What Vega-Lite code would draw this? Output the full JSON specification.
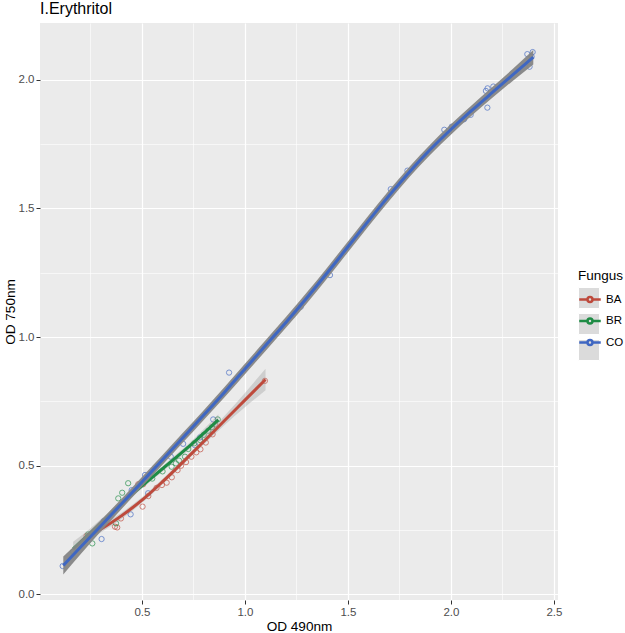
{
  "$schema": "https://vega.github.io/schema/vega-lite/v6.json",
  "autosize": {"type": "none"},
  "width": 518,
  "height": 577,
  "padding": {"left": 40, "top": 23, "right": 67, "bottom": 33},
  "background": "white",
  "title": {"text": "I.Erythritol", "anchor": "start", "frame": "group", "font": "Liberation Sans", "fontSize": 16, "fontWeight": "normal", "color": "black", "offset": 6},
  "config": {
    "view": {"fill": "#EBEBEB", "stroke": null},
    "axis": {"domain": false, "gridColor": "white", "tickColor": "#333333", "tickSize": 4, "tickWidth": 1, "labelColor": "#4D4D4D", "labelFont": "Liberation Sans", "labelFontSize": 11.5, "labelPadding": 2, "titleFont": "Liberation Sans", "titleFontSize": 13.6, "titleFontWeight": "normal", "titleColor": "black"}
  },
  "datasets": {
    "pts": [
      {"Fungus": "CO", "od490": 0.115, "od750": 0.110},
      {"Fungus": "CO", "od490": 0.304, "od750": 0.215},
      {"Fungus": "CO", "od490": 0.315, "od750": 0.285},
      {"Fungus": "CO", "od490": 0.445, "od750": 0.311},
      {"Fungus": "CO", "od490": 0.45, "od750": 0.405},
      {"Fungus": "CO", "od490": 0.515, "od750": 0.464},
      {"Fungus": "CO", "od490": 0.53, "od750": 0.393},
      {"Fungus": "CO", "od490": 0.64, "od750": 0.535},
      {"Fungus": "CO", "od490": 0.70, "od750": 0.585},
      {"Fungus": "CO", "od490": 0.757, "od750": 0.58},
      {"Fungus": "CO", "od490": 0.782, "od750": 0.61},
      {"Fungus": "CO", "od490": 0.846, "od750": 0.68},
      {"Fungus": "CO", "od490": 0.923, "od750": 0.862},
      {"Fungus": "CO", "od490": 1.271, "od750": 1.118},
      {"Fungus": "CO", "od490": 1.413, "od750": 1.241},
      {"Fungus": "CO", "od490": 1.708, "od750": 1.575},
      {"Fungus": "CO", "od490": 1.789, "od750": 1.647},
      {"Fungus": "CO", "od490": 1.968, "od750": 1.806},
      {"Fungus": "CO", "od490": 2.004, "od750": 1.818},
      {"Fungus": "CO", "od490": 2.064, "od750": 1.847},
      {"Fungus": "CO", "od490": 2.096, "od750": 1.864},
      {"Fungus": "CO", "od490": 2.177, "od750": 1.892},
      {"Fungus": "CO", "od490": 2.17, "od750": 1.957},
      {"Fungus": "CO", "od490": 2.178, "od750": 1.967},
      {"Fungus": "CO", "od490": 2.206, "od750": 1.974},
      {"Fungus": "CO", "od490": 2.327, "od750": 2.032},
      {"Fungus": "CO", "od490": 2.371, "od750": 2.1},
      {"Fungus": "CO", "od490": 2.397, "od750": 2.108},
      {"Fungus": "CO", "od490": 2.382, "od750": 2.051},
      {"Fungus": "CO", "od490": 2.392, "od750": 2.09},
      {"Fungus": "BA", "od490": 0.231, "od750": 0.227},
      {"Fungus": "BA", "od490": 0.369, "od750": 0.263},
      {"Fungus": "BA", "od490": 0.38, "od750": 0.26},
      {"Fungus": "BA", "od490": 0.398, "od750": 0.295},
      {"Fungus": "BA", "od490": 0.482, "od750": 0.428},
      {"Fungus": "BA", "od490": 0.503, "od750": 0.341},
      {"Fungus": "BA", "od490": 0.506, "od750": 0.428},
      {"Fungus": "BA", "od490": 0.531, "od750": 0.382},
      {"Fungus": "BA", "od490": 0.571, "od750": 0.414},
      {"Fungus": "BA", "od490": 0.597, "od750": 0.425},
      {"Fungus": "BA", "od490": 0.62, "od750": 0.434},
      {"Fungus": "BA", "od490": 0.645, "od750": 0.455},
      {"Fungus": "BA", "od490": 0.673, "od750": 0.483},
      {"Fungus": "BA", "od490": 0.69, "od750": 0.50},
      {"Fungus": "BA", "od490": 0.714, "od750": 0.514},
      {"Fungus": "BA", "od490": 0.74, "od750": 0.535},
      {"Fungus": "BA", "od490": 0.764, "od750": 0.552},
      {"Fungus": "BA", "od490": 0.784, "od750": 0.564},
      {"Fungus": "BA", "od490": 0.81, "od750": 0.59},
      {"Fungus": "BA", "od490": 0.843, "od750": 0.622},
      {"Fungus": "BA", "od490": 0.855, "od750": 0.66},
      {"Fungus": "BA", "od490": 1.097, "od750": 0.83},
      {"Fungus": "BR", "od490": 0.166, "od750": 0.166},
      {"Fungus": "BR", "od490": 0.239, "od750": 0.233},
      {"Fungus": "BR", "od490": 0.259, "od750": 0.198},
      {"Fungus": "BR", "od490": 0.288, "od750": 0.257},
      {"Fungus": "BR", "od490": 0.374, "od750": 0.276},
      {"Fungus": "BR", "od490": 0.385, "od750": 0.373},
      {"Fungus": "BR", "od490": 0.404, "od750": 0.395},
      {"Fungus": "BR", "od490": 0.433, "od750": 0.432},
      {"Fungus": "BR", "od490": 0.55, "od750": 0.45},
      {"Fungus": "BR", "od490": 0.60, "od750": 0.478},
      {"Fungus": "BR", "od490": 0.644, "od750": 0.496},
      {"Fungus": "BR", "od490": 0.665, "od750": 0.509},
      {"Fungus": "BR", "od490": 0.68, "od750": 0.52},
      {"Fungus": "BR", "od490": 0.709, "od750": 0.535},
      {"Fungus": "BR", "od490": 0.725, "od750": 0.565},
      {"Fungus": "BR", "od490": 0.754, "od750": 0.587},
      {"Fungus": "BR", "od490": 0.782, "od750": 0.6},
      {"Fungus": "BR", "od490": 0.80, "od750": 0.62},
      {"Fungus": "BR", "od490": 0.822, "od750": 0.636},
      {"Fungus": "BR", "od490": 0.84, "od750": 0.65},
      {"Fungus": "BR", "od490": 0.868, "od750": 0.68}
    ],
    "smooth": [
      {"Fungus": "BA", "od490": 0.231, "fit": 0.222, "lo": 0.207, "hi": 0.237},
      {"Fungus": "BA", "od490": 0.3, "fit": 0.253, "lo": 0.240, "hi": 0.266},
      {"Fungus": "BA", "od490": 0.4, "fit": 0.305, "lo": 0.293, "hi": 0.317},
      {"Fungus": "BA", "od490": 0.5, "fit": 0.366, "lo": 0.355, "hi": 0.377},
      {"Fungus": "BA", "od490": 0.6, "fit": 0.438, "lo": 0.428, "hi": 0.448},
      {"Fungus": "BA", "od490": 0.7, "fit": 0.515, "lo": 0.505, "hi": 0.525},
      {"Fungus": "BA", "od490": 0.8, "fit": 0.594, "lo": 0.582, "hi": 0.606},
      {"Fungus": "BA", "od490": 0.9, "fit": 0.675, "lo": 0.657, "hi": 0.693},
      {"Fungus": "BA", "od490": 1.0, "fit": 0.755, "lo": 0.727, "hi": 0.783},
      {"Fungus": "BA", "od490": 1.1, "fit": 0.835, "lo": 0.793, "hi": 0.877},
      {"Fungus": "BR", "od490": 0.166, "fit": 0.177, "lo": 0.150, "hi": 0.204},
      {"Fungus": "BR", "od490": 0.25, "fit": 0.239, "lo": 0.221, "hi": 0.257},
      {"Fungus": "BR", "od490": 0.35, "fit": 0.314, "lo": 0.300, "hi": 0.328},
      {"Fungus": "BR", "od490": 0.45, "fit": 0.388, "lo": 0.376, "hi": 0.400},
      {"Fungus": "BR", "od490": 0.55, "fit": 0.455, "lo": 0.444, "hi": 0.466},
      {"Fungus": "BR", "od490": 0.65, "fit": 0.522, "lo": 0.511, "hi": 0.533},
      {"Fungus": "BR", "od490": 0.75, "fit": 0.590, "lo": 0.577, "hi": 0.603},
      {"Fungus": "BR", "od490": 0.871, "fit": 0.678, "lo": 0.656, "hi": 0.700},
      {"Fungus": "CO", "od490": 0.118, "fit": 0.112, "lo": 0.077, "hi": 0.147},
      {"Fungus": "CO", "od490": 0.2, "fit": 0.182, "lo": 0.154, "hi": 0.210},
      {"Fungus": "CO", "od490": 0.3, "fit": 0.266, "lo": 0.244, "hi": 0.288},
      {"Fungus": "CO", "od490": 0.4, "fit": 0.351, "lo": 0.331, "hi": 0.371},
      {"Fungus": "CO", "od490": 0.5, "fit": 0.437, "lo": 0.418, "hi": 0.456},
      {"Fungus": "CO", "od490": 0.6, "fit": 0.523, "lo": 0.504, "hi": 0.542},
      {"Fungus": "CO", "od490": 0.7, "fit": 0.610, "lo": 0.591, "hi": 0.629},
      {"Fungus": "CO", "od490": 0.8, "fit": 0.697, "lo": 0.678, "hi": 0.716},
      {"Fungus": "CO", "od490": 0.9, "fit": 0.785, "lo": 0.765, "hi": 0.805},
      {"Fungus": "CO", "od490": 1.0, "fit": 0.876, "lo": 0.856, "hi": 0.896},
      {"Fungus": "CO", "od490": 1.1, "fit": 0.967, "lo": 0.946, "hi": 0.988},
      {"Fungus": "CO", "od490": 1.2, "fit": 1.058, "lo": 1.037, "hi": 1.079},
      {"Fungus": "CO", "od490": 1.3, "fit": 1.152, "lo": 1.131, "hi": 1.173},
      {"Fungus": "CO", "od490": 1.4, "fit": 1.250, "lo": 1.229, "hi": 1.271},
      {"Fungus": "CO", "od490": 1.5, "fit": 1.351, "lo": 1.330, "hi": 1.372},
      {"Fungus": "CO", "od490": 1.6, "fit": 1.452, "lo": 1.431, "hi": 1.473},
      {"Fungus": "CO", "od490": 1.7, "fit": 1.550, "lo": 1.529, "hi": 1.571},
      {"Fungus": "CO", "od490": 1.8, "fit": 1.643, "lo": 1.623, "hi": 1.663},
      {"Fungus": "CO", "od490": 1.9, "fit": 1.729, "lo": 1.709, "hi": 1.749},
      {"Fungus": "CO", "od490": 2.0, "fit": 1.807, "lo": 1.787, "hi": 1.827},
      {"Fungus": "CO", "od490": 2.1, "fit": 1.880, "lo": 1.860, "hi": 1.900},
      {"Fungus": "CO", "od490": 2.2, "fit": 1.950, "lo": 1.929, "hi": 1.971},
      {"Fungus": "CO", "od490": 2.3, "fit": 2.019, "lo": 1.996, "hi": 2.042},
      {"Fungus": "CO", "od490": 2.4, "fit": 2.088, "lo": 2.060, "hi": 2.116}
    ]
  },
  "encoding": {
    "x": {"field": "od490", "type": "quantitative", "title": "OD 490nm",
      "scale": {"domain": [0.005, 2.52], "nice": false, "zero": false},
      "axis": {"values": [0.25, 0.5, 0.75, 1, 1.25, 1.5, 1.75, 2, 2.25, 2.5], "labelFlush": false, "labelOverlap": false, "titlePadding": 2,
        "labelExpr": "round(datum.value*100) % 50 === 0 ? format(datum.value, '.1f') : ''",
        "gridWidth": {"condition": {"test": "round(datum.value*100) % 50 !== 0", "value": 0.6}, "value": 1.2},
        "tickOpacity": {"condition": {"test": "round(datum.value*100) % 50 !== 0", "value": 0}, "value": 1}}}
  },
  "layer": [
    {
      "data": {"name": "pts"},
      "mark": {"type": "point", "filled": false, "size": 28, "strokeWidth": 0.9, "opacity": 0.75},
      "encoding": {
        "y": {"field": "od750", "type": "quantitative", "title": "OD 750nm",
          "scale": {"domain": [-0.022, 2.221], "nice": false, "zero": false},
          "axis": {"values": [0, 0.25, 0.5, 0.75, 1, 1.25, 1.5, 1.75, 2], "labelOverlap": false, "titlePadding": 1,
            "labelExpr": "round(datum.value*100) % 50 === 0 ? format(datum.value, '.1f') : ''",
            "gridWidth": {"condition": {"test": "round(datum.value*100) % 50 !== 0", "value": 0.6}, "value": 1.2},
            "tickOpacity": {"condition": {"test": "round(datum.value*100) % 50 !== 0", "value": 0}, "value": 1}}},
        "color": {"field": "Fungus", "type": "nominal",
          "scale": {"range": ["#BE4A3C", "#1E8C45", "#3F67C2"]},
          "legend": {"orient": "none", "legendX": 538, "legendY": 246, "zindex": 2, "padding": 0, "title": "Fungus",
            "titleFont": "Liberation Sans", "titleFontSize": 13.5, "titleFontWeight": "normal", "titleColor": "black", "titlePadding": 5,
            "labelFont": "Liberation Sans", "labelFontSize": 11.5, "labelColor": "black", "labelOffset": 4,
            "symbolType": "M-1,0L-0.23,0M0.23,0L1,0M0.23,0A0.23,0.23,0,1,1,-0.23,0A0.23,0.23,0,1,1,0.23,0Z",
            "symbolSize": 462, "symbolStrokeWidth": 2.5, "symbolOpacity": 1, "rowPadding": 1.5}}
      }
    },
    {
      "data": {"name": "smooth"},
      "transform": [{"filter": "datum.Fungus === 'BA'"}],
      "mark": {"type": "area", "opacity": 0.35, "interpolate": "monotone"},
      "encoding": {
        "y": {"field": "lo", "type": "quantitative"},
        "y2": {"field": "hi"},
        "fill": {"field": "Fungus", "type": "nominal",
          "scale": {"domain": ["BA", "BR", "CO"], "range": ["#999999", "#999999", "#999999"]},
          "legend": {"orient": "none", "legendX": 538, "legendY": 264, "zindex": 1, "padding": 0, "title": null,
            "labelExpr": "''", "labelFontSize": 1, "labelOffset": 0,
            "symbolType": "square", "symbolSize": 441, "symbolOpacity": 0.4, "symbolStrokeColor": "white", "symbolStrokeWidth": 1, "rowPadding": 0}}
      }
    },
    {
      "data": {"name": "smooth"},
      "transform": [{"filter": "datum.Fungus === 'BA'"}],
      "mark": {"type": "line", "strokeWidth": 3, "interpolate": "monotone"},
      "encoding": {"y": {"field": "fit", "type": "quantitative"}, "color": {"field": "Fungus", "type": "nominal"}}
    },
    {
      "data": {"name": "smooth"},
      "transform": [{"filter": "datum.Fungus === 'BR'"}],
      "mark": {"type": "area", "opacity": 0.35, "interpolate": "monotone"},
      "encoding": {"y": {"field": "lo", "type": "quantitative"}, "y2": {"field": "hi"}, "fill": {"field": "Fungus", "type": "nominal"}}
    },
    {
      "data": {"name": "smooth"},
      "transform": [{"filter": "datum.Fungus === 'BR'"}],
      "mark": {"type": "line", "strokeWidth": 3, "interpolate": "monotone"},
      "encoding": {"y": {"field": "fit", "type": "quantitative"}, "color": {"field": "Fungus", "type": "nominal"}}
    },
    {
      "data": {"name": "smooth"},
      "transform": [{"filter": "datum.Fungus === 'CO'"}],
      "mark": {"type": "area", "fill": "#858585", "opacity": 0.95, "interpolate": "monotone"},
      "encoding": {"y": {"field": "lo", "type": "quantitative"}, "y2": {"field": "hi"}}
    },
    {
      "data": {"name": "smooth"},
      "transform": [{"filter": "datum.Fungus === 'CO'"}],
      "mark": {"type": "line", "strokeWidth": 3, "interpolate": "monotone"},
      "encoding": {"y": {"field": "fit", "type": "quantitative"}, "color": {"field": "Fungus", "type": "nominal"}}
    }
  ]
}
